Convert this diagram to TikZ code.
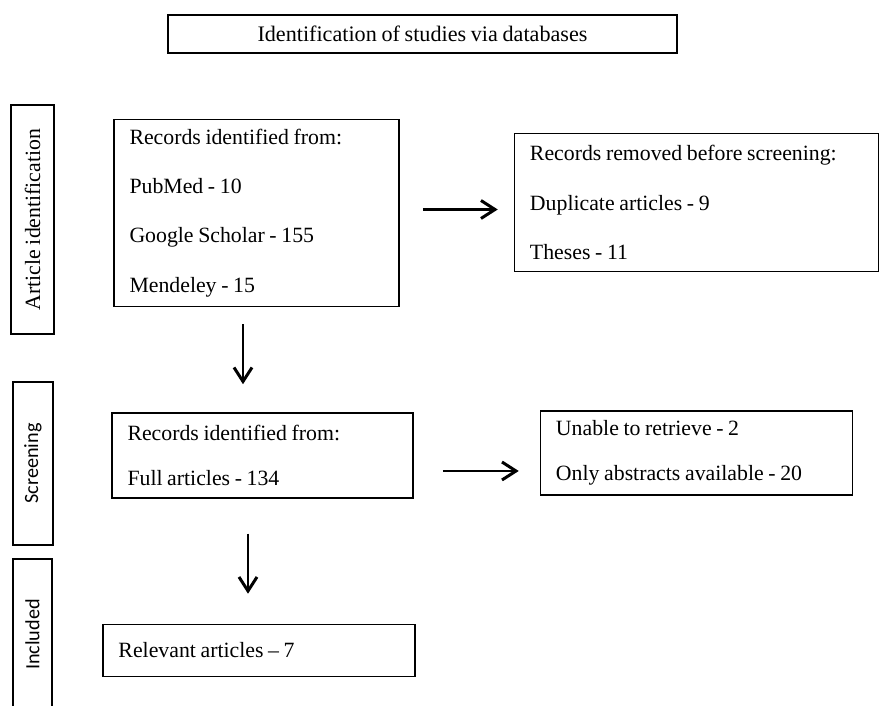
\documentclass[tikz,border=0pt]{standalone}
\usepackage{fontspec}
\setmainfont{Liberation Serif}[WordSpace=0.85]
\newfontfamily\sidefont{Carlito}
\usetikzlibrary{positioning}
\usetikzlibrary{arrows.meta}

\begin{document}
\begin{tikzpicture}[
    box/.style={draw, line width=0.85pt, inner xsep=0.31cm, inner ysep=0pt, align=flush left,
      font=\fontsize{12.4}{28}\selectfont},
    tightbox/.style={box, font=\fontsize{12.4}{25.6}\selectfont},
    side/.style={draw, line width=0.85pt, rotate=90, inner sep=0pt},
    arr/.style={line width=1.5pt, -{Straight Barb[length=0.28cm,width=0.36cm,line width=1.7pt]}}
  ]
    \useasboundingbox (0,0) rectangle (17.58,-14.12);

    % Boxes
    \node[draw, line width=0.85pt, minimum width=10.18cm, minimum height=0.76cm,
      font=\fontsize{12.6}{14}\selectfont] (title) at (8.45,-0.68) {Identification of studies via databases};
    \node[box, text width=5.08cm, minimum height=3.74cm, below=1.30cm of title, xshift=-3.32cm] (rec)
      {Records identified from:\\PubMed - 10\\Google Scholar - 155\\Mendeley - 15};
    \node[box, text width=6.66cm, minimum height=2.76cm, right=2.28cm of rec, yshift=0.21cm] (removed)
      {Records removed before screening:\\Duplicate articles - 9\\Theses - 11};
    \node[tightbox, text width=5.40cm, minimum height=1.70cm, below=2.10cm of rec, xshift=0.12cm] (scr)
      {Records identified from:\\Full articles - 134};
    \node[tightbox, text width=5.62cm, minimum height=1.68cm, right=2.52cm of scr, yshift=0.05cm] (excl)
      {Unable to retrieve - 2\\Only abstracts available - 20};
    \node[box, text width=5.62cm, minimum height=1.04cm, below=2.50cm of scr, xshift=-0.07cm] (incl)
      {Relevant articles -- 7};

    % Side labels
    \node[side, minimum width=4.58cm, minimum height=0.86cm, font=\fontsize{12.4}{14}\selectfont]
      (sideA) at (0.65,-4.39) {Article identification};
    \node[side, minimum width=3.26cm, minimum height=0.80cm, font=\sidefont\fontsize{11.5}{13}\selectfont]
      (sideB) at (0.66,-9.27) {Screening};
    \node[side, minimum width=3.02cm, minimum height=0.78cm, font=\sidefont\fontsize{11.5}{13}\selectfont]
      (sideC) at (0.65,-12.69) {Included};

    % Arrows
    \draw[arr, shorten <=0.46cm, shorten >=0.32cm] ([yshift=0.07cm]rec.east) -- ([yshift=0.07cm]rec.east -| removed.west);
    \draw[arr, shorten <=0.34cm, shorten >=0.56cm] ([xshift=-0.27cm]rec.south) -- ([xshift=-0.27cm]rec.south |- scr.north);
    \draw[arr, shorten <=0.58cm, shorten >=0.42cm] ([yshift=-0.31cm]scr.east) -- ([yshift=-0.31cm]scr.east -| excl.west);
    \draw[arr, shorten <=0.70cm, shorten >=0.60cm] ([xshift=-0.29cm]scr.south) -- ([xshift=-0.29cm]scr.south |- incl.north);
\end{tikzpicture}
\end{document}
